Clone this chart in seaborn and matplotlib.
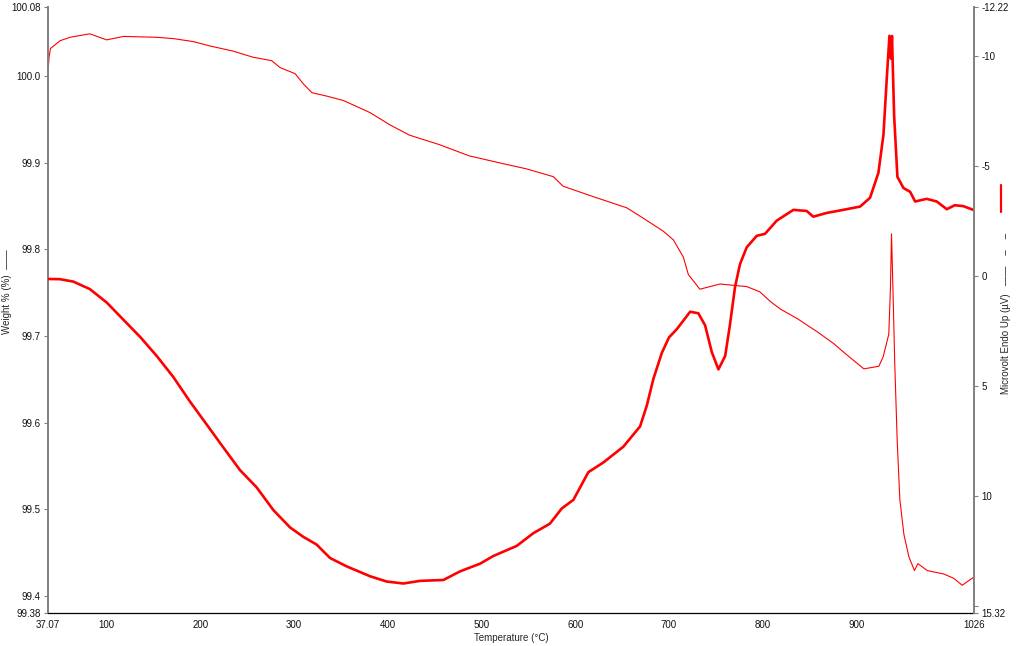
import matplotlib
matplotlib.use("Agg")
import matplotlib.pyplot as plt
import seaborn as sns

# ---- weight % (thin trace, left axis) ----
temp_w = [37.07, 38.5, 40, 50.2, 61, 82, 100, 118, 153.4, 171, 192.5, 210, 235, 256, 276,
          285, 301, 310, 319, 335, 352.5, 366.8, 381, 402, 423, 455, 487, 519, 548,
          576.6, 587, 619, 655, 672.6, 694, 704.7, 715.4, 720.7, 733, 754.5, 783, 797,
          808, 819, 837, 858, 876, 890, 908, 924, 928.6, 934.6, 936.4, 937.5, 939, 941,
          943.6, 946.4, 950.7, 956, 962, 965.6, 975.7, 993.4, 1004, 1013, 1026]
weight = [100.00, 100.022, 100.032, 100.041, 100.045, 100.049, 100.042, 100.046, 100.045,
          100.0435, 100.040, 100.035, 100.029, 100.022, 100.018, 100.010, 100.003, 99.991,
          99.981, 99.977, 99.972, 99.965, 99.958, 99.944, 99.932, 99.921, 99.908, 99.900,
          99.893, 99.884, 99.873, 99.861, 99.848, 99.836, 99.821, 99.811, 99.791, 99.771,
          99.754, 99.760, 99.757, 99.751, 99.740, 99.731, 99.720, 99.705, 99.691, 99.678,
          99.662, 99.665, 99.676, 99.702, 99.756, 99.818, 99.756, 99.667, 99.578, 99.511,
          99.471, 99.445, 99.429, 99.437, 99.429, 99.425, 99.420, 99.412, 99.422]

# ---- heat flow (thick trace, right axis, endo up) ----
temp_uv = [37.07, 50, 64.4, 82, 100, 118, 135.6, 153.4, 171, 189, 206.8, 224.5, 242.3, 260,
           277.8, 295.6, 309.8, 324, 338.3, 356, 381, 398.8, 416.6, 434.4, 459.3, 477,
           498.4, 512.6, 537.6, 555.4, 573, 585.6, 598, 614, 630, 651.4, 669.2, 676.4,
           683.4, 692.4, 700, 708.4, 722.6, 731.4, 738.6, 745.7, 752.8, 760, 765, 770.5,
           775.8, 783, 793.7, 802.5, 815, 832.8, 847, 854, 868.3, 886, 904, 914.6, 923.5,
           928.9, 932.5, 935.3, 937, 938, 940.3, 943.8, 950.3, 957.4, 962.7, 975, 985.8,
           996.5, 1005, 1014, 1026]
microvolt = [0.14, 0.15, 0.26, 0.60, 1.21, 2.0, 2.77, 3.64, 4.59, 5.72, 6.76, 7.80, 8.83,
             9.61, 10.64, 11.43, 11.86, 12.21, 12.82, 13.20, 13.65, 13.89, 13.98, 13.86,
             13.82, 13.43, 13.08, 12.73, 12.27, 11.69, 11.26, 10.57, 10.18, 8.92, 8.48,
             7.76, 6.84, 5.89, 4.68, 3.5, 2.8, 2.42, 1.63, 1.70, 2.25, 3.46, 4.25, 3.64,
             2.25, 0.51, -0.53, -1.30, -1.82, -1.91, -2.51, -3.0, -2.95, -2.69, -2.86,
             -3.0, -3.15, -3.55, -4.68, -6.41, -9.01, -10.91, -9.87, -10.9, -7.28, -4.50,
             -3.99, -3.82, -3.38, -3.50, -3.38, -3.03, -3.21, -3.17, -2.98]

x_ticks = [37.07, 100, 200, 300, 400, 500, 600, 700, 800, 900, 1000, 1026]
x_labels = ["37.07", "100", "200", "300", "400", "500", "600", "700", "800", "900", "", "1026"]
w_ticks = [99.38, 99.4, 99.5, 99.6, 99.7, 99.8, 99.9, 100.0, 100.08]
w_labels = ["99.38", "99.4", "99.5", "99.6", "99.7", "99.8", "99.9", "100.0", "100.08"]
uv_ticks = [-12.22, -10, -5, 0, 5, 10, 15, 15.32]
uv_labels = ["-12.22", "-10", "-5", "0", "5", "10", "", "15.32"]

sns.set_style("white")
plt.rcParams['font.family'] = ['Liberation Sans', 'DejaVu Sans']
plt.rcParams['font.size'] = 7

fig, ax = plt.subplots(figsize=(10.24, 6.46), dpi=100)
fig.subplots_adjust(left=0.0466, right=0.9516, bottom=0.0511, top=0.9892)
ax2 = ax.twinx()

sns.lineplot(x=temp_w, y=weight, ax=ax, color="red", linewidth=0.8)
sns.lineplot(x=temp_uv, y=microvolt, ax=ax2, color="red", linewidth=1.9)

ax.set_xlim(37.07, 1026)
ax.set_ylim(99.38, 100.08)
ax2.set_ylim(15.32, -12.22)

ax.set_xticks(x_ticks)
ax.set_xticklabels(x_labels)
ax.set_yticks(w_ticks)
ax.set_yticklabels(w_labels)
ax2.set_yticks(uv_ticks)
ax2.set_yticklabels(uv_labels)

for a in (ax, ax2):
    a.spines["top"].set_visible(False)
    a.tick_params(length=3, width=0.8, pad=2, labelsize=7, labelcolor="#111111")
ax.spines["left"].set_color("#808080")
ax.spines["left"].set_linewidth(1.4)
ax2.spines["right"].set_color("#808080")
ax2.spines["right"].set_linewidth(1.4)
ax2.spines["left"].set_visible(False)
ax2.spines["bottom"].set_visible(False)
ax.spines["right"].set_visible(False)
ax.spines["bottom"].set_color("black")
ax.spines["bottom"].set_linewidth(0.9)
ax.tick_params(axis="y", color="#808080")
ax2.tick_params(axis="y", color="#808080")
ax.tick_params(axis="x", color="#808080")

ax.set_xlabel("Temperature (°C)", fontsize=7, labelpad=2)
ax.set_ylabel("Weight % (%)  \u2014\u2014", fontsize=7)
ax.yaxis.set_label_coords(-0.0385, 0.53)
ax2.set_ylabel("Microvolt Endo Up (µV)   \u2014\u2014    \u2013    \u2013", fontsize=7, rotation=90)
ax2.yaxis.set_label_coords(1.029, 0.495)
# red legend swatch above the right label
fig.add_artist(plt.Line2D([1001 / 1024, 1001 / 1024], [1 - 185 / 646, 1 - 212 / 646],
                          color="red", linewidth=1.6, transform=fig.transFigure))

fig.savefig("out.png", dpi=100)
